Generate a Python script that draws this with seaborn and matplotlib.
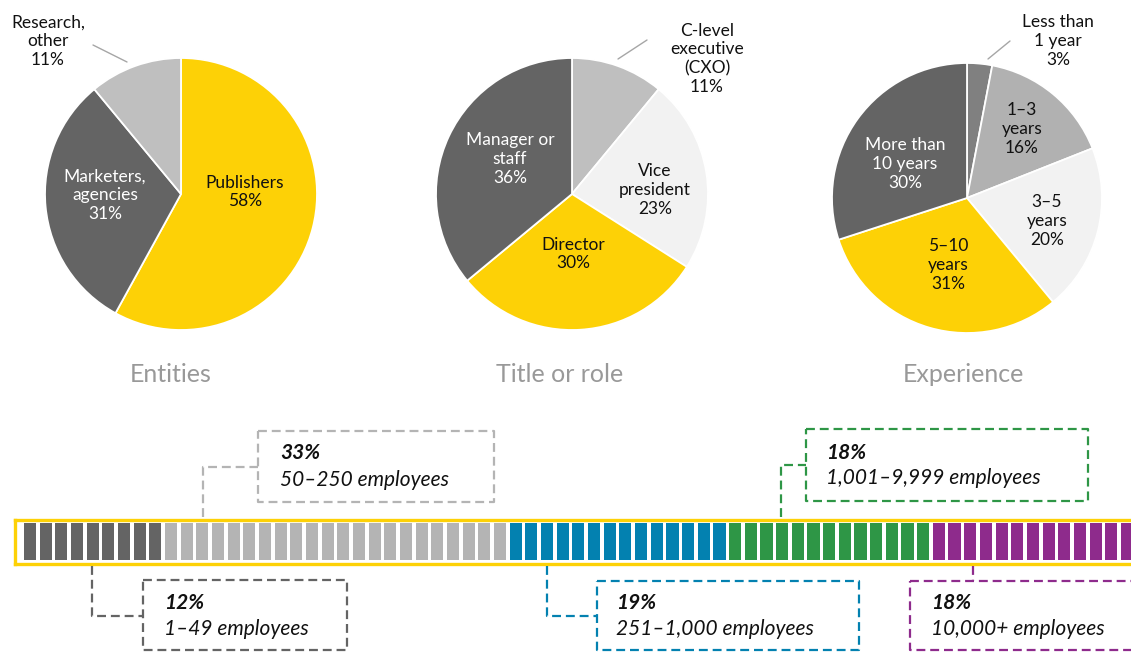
import numpy as np
import pandas as pd
import matplotlib
matplotlib.use("Agg")
import matplotlib.pyplot as plt
import seaborn as sns

# ---------------- data ----------------
entity_labels = ["Publishers\n58%", "Marketers,\nagencies\n31%", "Research,\nother\n11%"]
entity_values = [58, 31, 11]

role_labels = ["C-level\nexecutive\n(CXO)\n11%", "Vice\npresident\n23%", "Director\n30%",
               "Manager or\nstaff\n36%"]
role_values = [11, 23, 30, 36]

exp_labels = ["Less than\n1 year\n3%", "1–3\nyears\n16%", "3–5\nyears\n20%",
              "5–10\nyears\n31%", "More than\n10 years\n30%"]
exp_values = [3, 16, 20, 31, 30]

pie_titles = ["Entities", "Title or role", "Experience"]

size_pct = ["12%", "33%", "19%", "18%", "18%"]
size_labels = ["1–49 employees", "50–250 employees", "251–1,000 employees",
               "1,001–9,999 employees", "10,000+ employees"]
size_blocks = [9, 22, 14, 13, 13]

# ---------------- style ----------------
YEL = "#FDD106"
DARK = "#646464"
LIGHT = "#BFBFBF"
PALE = "#F2F2F2"
MID = "#808080"
GREY2 = "#B1B1B1"
seg_colors = ["#646464", "#B4B4B4", "#0381B0", "#2E9646", "#8E2B8C"]

sns.set_theme(style="white")
plt.rcParams['font.family'] = ['Lato', 'DejaVu Sans']

W, H = 1131, 653
fig = plt.figure(figsize=(W / 100, H / 100), dpi=100)
fig.patch.set_facecolor("white")


def px_axes(x0, y0, x1, y1):
    return fig.add_axes([x0 / W, 1 - y1 / H, (x1 - x0) / W, (y1 - y0) / H])


def draw_pie(cx, cy, r, values, colors):
    ax = px_axes(cx - r, cy - r, cx + r, cy + r)
    ax.pie(values, colors=colors, startangle=90, counterclock=False, radius=1,
           wedgeprops=dict(edgecolor="white", linewidth=1.3))
    ax.set_xlim(-1, 1)
    ax.set_ylim(-1, 1)
    ax.axis("off")
    return ax


draw_pie(181, 194, 136, entity_values, [YEL, DARK, LIGHT])
draw_pie(572, 194, 136, role_values, [LIGHT, PALE, YEL, DARK])
draw_pie(967, 198, 135, exp_values, [MID, GREY2, PALE, YEL, DARK])

# ---------------- block strip (seaborn) ----------------
pitch, c0 = 15.67, 30.0
L, R = 15.0, 1145.0
seg_names = []
for name, n in zip(size_labels, size_blocks):
    seg_names += [name] * n
blocks = pd.DataFrame({"idx": np.arange(len(seg_names)), "h": 1.0, "segment": seg_names})

axs = px_axes(L, 519.5, R, 563.5)
sns.barplot(data=blocks, x="idx", y="h", hue="segment", hue_order=size_labels,
            palette=dict(zip(size_labels, seg_colors)), native_scale=True,
            dodge=False, width=0.77, legend=False, saturation=1, ax=axs,
            edgecolor="none", linewidth=0)
axs.set_xlim((L - c0) / pitch, (R - c0) / pitch)
axs.set_ylim(-0.111, 1.111)
axs.set_xticks([])
axs.set_yticks([])
axs.set_xlabel("")
axs.set_ylabel("")
for s in axs.spines.values():
    s.set_visible(True)
    s.set_color(YEL)
    s.set_linewidth(2.4)

# ---------------- overlay (labels, annotations) ----------------
ov = fig.add_axes([0, 0, 1, 1])
ov.set_xlim(0, W)
ov.set_ylim(H, 0)
ov.axis("off")
ov.patch.set_alpha(0)

LS = 1.22
FS = 12.5
TXT = "#111111"


def lab(x, y, s, c=TXT):
    ov.text(x, y, s, ha="center", va="center", fontsize=FS, color=c, linespacing=LS)


# pie 1
lab(245, 192, entity_labels[0])
lab(105, 195, entity_labels[1], "white")
lab(48, 41, entity_labels[2])
ov.plot([93, 127], [45, 62], color="#A6A6A6", lw=1)
# pie 2
lab(707, 59, role_labels[0])
lab(655, 190, role_labels[1])
lab(573, 254, role_labels[2])
lab(510, 159, role_labels[3], "white")
ov.plot([618, 647], [59, 40], color="#A6A6A6", lw=1)
# pie 3
lab(1058, 41, exp_labels[0])
lab(1022, 129, exp_labels[1])
lab(1047, 221, exp_labels[2])
lab(948, 265, exp_labels[3])
lab(905, 164, exp_labels[4], "white")
ov.plot([988, 1010], [59, 41], color="#A6A6A6", lw=1)

# titles
for x, t in zip([171, 560, 963], pie_titles):
    ov.text(x, 375, t, ha="center", va="center", fontsize=18, color="#999999")

# annotations
dash = (0, (4, 2.2))
ann = [
    # box x0, y0, x1, y1, connector xs, ys, text x, text y1, text y2
    (143, 580, 347, 650, [92, 92, 143], [566, 616, 616], 164, 603, 629),
    (258, 431, 494, 502, [203, 203, 258], [517, 467, 467], 280, 453, 480),
    (597, 581, 859, 650, [547, 547, 597], [566, 616, 616], 616, 603, 629),
    (806, 429, 1088, 501, [781, 781, 806], [517, 465, 465], 826, 453, 478),
    (910, 581, 1160, 650, [973, 973], [566, 581], 931, 603, 629),
]
for i, (x0, y0, x1, y1, cxs, cys, tx, ty1, ty2) in enumerate(ann):
    col = seg_colors[i]
    ov.plot([x0, x1, x1, x0, x0], [y0, y0, y1, y1, y0], color=col, lw=1.6, linestyle=dash,
            solid_capstyle="butt", dash_capstyle="butt")
    ov.plot(cxs, cys, color=col, lw=1.6, linestyle=dash, dash_capstyle="butt")
    ov.text(tx, ty1, size_pct[i], ha="left", va="center", fontsize=15, color=TXT,
            fontstyle="italic", fontweight="bold")
    ov.text(tx, ty2, size_labels[i], ha="left", va="center", fontsize=15, color=TXT,
            fontstyle="italic")

fig.savefig("out.png", dpi=100, facecolor="white")
